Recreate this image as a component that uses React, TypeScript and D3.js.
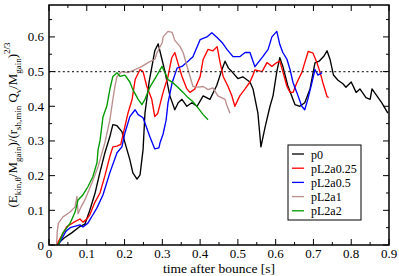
import * as d3 from 'd3';

const W = 399;
const H = 276;
const margin = { top: 5, right: 10, bottom: 31, left: 49 };

const xTicks = [0, 0.1, 0.2, 0.3, 0.4, 0.5, 0.6, 0.7, 0.8, 0.9];
const xTickLabels = ['0', '0.1', '0.2', '0.3', '0.4', '0.5', '0.6', '0.7', '0.8', '0.9'];
const yTicks = [0, 0.1, 0.2, 0.3, 0.4, 0.5, 0.6];
const yTickLabels = ['0', '0.1', '0.2', '0.3', '0.4', '0.5', '0.6'];

const seriesNames = ['p0', 'pL2a0.25', 'pL2a0.5', 'pL2a1', 'pL2a2'];
const seriesColors = ['#000000', '#ff0000', '#0000ff', '#bc8f8f', '#009a00'];

// [time after bounce, normalised ratio]
const p0: [number, number][] = [
  [0.02, 0], [0.03, 0.01], [0.04, 0.02], [0.06, 0.035], [0.08, 0.052], [0.095, 0.06],
  [0.108, 0.1], [0.122, 0.15], [0.135, 0.21], [0.148, 0.266], [0.161, 0.312], [0.169, 0.347],
  [0.18, 0.344], [0.193, 0.327], [0.201, 0.295], [0.214, 0.246], [0.222, 0.208], [0.233, 0.19],
  [0.241, 0.202], [0.249, 0.275], [0.254, 0.38], [0.265, 0.47], [0.28, 0.56], [0.289, 0.58],
  [0.298, 0.54], [0.307, 0.5], [0.32, 0.43], [0.333, 0.39], [0.342, 0.41], [0.352, 0.42],
  [0.365, 0.4], [0.378, 0.41], [0.392, 0.4], [0.408, 0.43], [0.426, 0.42], [0.444, 0.46],
  [0.456, 0.5], [0.466, 0.53], [0.475, 0.51], [0.484, 0.5], [0.5, 0.48], [0.513, 0.485],
  [0.532, 0.47], [0.54, 0.45], [0.553, 0.38], [0.561, 0.283], [0.572, 0.34], [0.585, 0.4],
  [0.593, 0.43], [0.603, 0.5], [0.611, 0.54], [0.619, 0.515], [0.632, 0.46], [0.651, 0.405],
  [0.664, 0.4], [0.677, 0.41], [0.691, 0.45], [0.704, 0.525], [0.715, 0.53], [0.728, 0.545],
  [0.736, 0.56], [0.744, 0.535], [0.753, 0.49], [0.765, 0.475], [0.778, 0.465], [0.786, 0.455],
  [0.8, 0.47], [0.813, 0.44], [0.823, 0.45], [0.839, 0.425], [0.85, 0.42], [0.855, 0.45],
  [0.868, 0.43], [0.881, 0.41], [0.897, 0.38],
];

const pL2a025: [number, number][] = [
  [0.02, 0], [0.03, 0.02], [0.047, 0.053], [0.065, 0.065], [0.082, 0.075], [0.09, 0.066],
  [0.1, 0.075], [0.108, 0.087], [0.12, 0.12], [0.135, 0.15], [0.148, 0.2], [0.161, 0.255],
  [0.169, 0.283], [0.18, 0.285], [0.19, 0.29], [0.196, 0.318], [0.209, 0.38], [0.22, 0.42],
  [0.228, 0.477], [0.241, 0.506], [0.249, 0.5], [0.259, 0.457], [0.272, 0.42], [0.28, 0.37],
  [0.288, 0.38], [0.302, 0.44], [0.315, 0.486], [0.325, 0.54], [0.333, 0.555], [0.341, 0.526],
  [0.352, 0.486], [0.365, 0.45], [0.373, 0.44], [0.386, 0.45], [0.4, 0.485], [0.408, 0.535],
  [0.421, 0.564], [0.434, 0.56], [0.445, 0.572], [0.453, 0.526], [0.461, 0.486], [0.474, 0.457],
  [0.484, 0.43], [0.492, 0.4], [0.505, 0.43], [0.519, 0.45], [0.532, 0.47], [0.54, 0.49],
  [0.545, 0.505], [0.564, 0.5], [0.577, 0.526], [0.59, 0.515], [0.603, 0.526], [0.611, 0.53],
  [0.619, 0.5], [0.63, 0.457], [0.638, 0.44], [0.646, 0.44], [0.656, 0.468], [0.669, 0.497],
  [0.677, 0.526], [0.686, 0.558], [0.699, 0.553], [0.709, 0.526], [0.717, 0.5], [0.725, 0.468],
  [0.736, 0.428], [0.74, 0.425],
];

const pL2a05: [number, number][] = [
  [0.025, 0], [0.03, 0.01], [0.045, 0.04], [0.056, 0.05], [0.082, 0.058], [0.09, 0.052],
  [0.103, 0.063], [0.115, 0.085], [0.127, 0.107], [0.143, 0.145], [0.161, 0.208], [0.18, 0.266],
  [0.193, 0.283], [0.201, 0.323], [0.214, 0.37], [0.228, 0.39], [0.236, 0.376], [0.249, 0.367],
  [0.267, 0.312], [0.28, 0.277], [0.291, 0.28], [0.294, 0.295], [0.302, 0.32], [0.31, 0.36],
  [0.315, 0.41], [0.326, 0.468], [0.339, 0.51], [0.352, 0.515], [0.368, 0.53], [0.381, 0.543],
  [0.4, 0.592], [0.418, 0.6], [0.431, 0.612], [0.445, 0.598], [0.458, 0.584], [0.471, 0.564],
  [0.487, 0.543], [0.505, 0.543], [0.519, 0.555], [0.532, 0.555], [0.545, 0.514], [0.553, 0.525],
  [0.566, 0.543], [0.58, 0.564], [0.59, 0.6], [0.603, 0.616], [0.611, 0.578], [0.619, 0.555],
  [0.63, 0.535], [0.638, 0.506], [0.646, 0.468], [0.656, 0.44], [0.669, 0.4], [0.677, 0.39],
  [0.685, 0.42], [0.696, 0.468], [0.704, 0.506], [0.712, 0.49], [0.723, 0.497],
];

const pL2a1: [number, number][] = [
  [0.02, 0], [0.022, 0.04], [0.025, 0.063], [0.037, 0.081], [0.056, 0.095], [0.069, 0.11],
  [0.074, 0.14], [0.077, 0.09], [0.085, 0.11], [0.095, 0.13], [0.114, 0.18], [0.13, 0.226],
  [0.148, 0.295], [0.161, 0.36], [0.169, 0.42], [0.175, 0.46], [0.18, 0.486], [0.193, 0.5],
  [0.209, 0.497], [0.228, 0.506], [0.246, 0.515], [0.262, 0.526], [0.28, 0.535], [0.286, 0.555],
  [0.3, 0.584], [0.302, 0.6], [0.315, 0.616], [0.326, 0.613], [0.333, 0.59], [0.347, 0.572],
  [0.355, 0.555], [0.368, 0.506], [0.381, 0.457], [0.394, 0.455], [0.408, 0.457], [0.421, 0.448],
  [0.434, 0.453], [0.447, 0.43], [0.466, 0.42], [0.47, 0.405], [0.479, 0.38],
];

const pL2a2: [number, number][] = [
  [0.025, 0], [0.03, 0.015], [0.037, 0.035], [0.056, 0.063], [0.069, 0.095], [0.077, 0.13],
  [0.09, 0.145], [0.103, 0.168], [0.116, 0.197], [0.127, 0.237], [0.13, 0.275], [0.135, 0.3],
  [0.143, 0.37], [0.153, 0.4], [0.161, 0.448], [0.169, 0.486], [0.18, 0.497], [0.188, 0.486],
  [0.201, 0.49], [0.214, 0.47], [0.222, 0.448], [0.236, 0.42], [0.246, 0.405], [0.254, 0.42],
  [0.267, 0.455], [0.286, 0.49], [0.299, 0.515], [0.307, 0.497], [0.315, 0.477], [0.328, 0.468],
  [0.341, 0.455], [0.355, 0.44], [0.368, 0.425], [0.381, 0.413], [0.394, 0.396], [0.408, 0.376],
  [0.421, 0.361],
];

const seriesData = [p0, pL2a025, pL2a05, pL2a1, pL2a2];

export default function App() {
  const x = d3.scaleLinear().domain([0, 0.9]).range([margin.left, W - margin.right]);
  const y = d3.scaleLinear().domain([0, 0.692]).range([H - margin.bottom, margin.top]);

  const line = d3.line<[number, number]>()
    .x(d => x(d[0]))
    .y(d => y(d[1]));

  const xMinor = d3.range(0.05, 0.9, 0.1);
  const yMinor = d3.range(0.05, 0.69, 0.1);
  const x0 = margin.left, x1 = W - margin.right;
  const y0 = H - margin.bottom, y1 = margin.top;
  const font = "'Liberation Serif', Tinos, 'Times New Roman', Times, 'Nimbus Roman', FreeSerif, 'DejaVu Serif', serif";

  return (
    <svg width={W} height={H}
      style={{ position: 'absolute', left: 0, top: 0, background: '#fff', fontFamily: font }}>
      {/* data lines */}
      <g fill="none" strokeWidth={1.35} strokeLinejoin="round">
        {seriesData.map((d, i) => (
          <path key={i} d={line(d) || ''} stroke={seriesColors[i]} />
        ))}
      </g>

      {/* reference line at 0.5 */}
      <line x1={x0} x2={x1} y1={y(0.5)} y2={y(0.5)} stroke="#333" strokeWidth={1.3}
        strokeDasharray="2,2.6" />

      {/* ticks on all four sides */}
      <g stroke="#000" strokeWidth={1}>
        {xTicks.map(t => (
          <g key={'xt' + t}>
            <line x1={x(t)} x2={x(t)} y1={y0} y2={y0 - 6} />
            <line x1={x(t)} x2={x(t)} y1={y1} y2={y1 + 6} />
          </g>
        ))}
        {xMinor.map(t => (
          <g key={'xm' + t}>
            <line x1={x(t)} x2={x(t)} y1={y0} y2={y0 - 3} />
            <line x1={x(t)} x2={x(t)} y1={y1} y2={y1 + 3} />
          </g>
        ))}
        {yTicks.map(t => (
          <g key={'yt' + t}>
            <line x1={x0} x2={x0 + 6} y1={y(t)} y2={y(t)} />
            <line x1={x1} x2={x1 - 6} y1={y(t)} y2={y(t)} />
          </g>
        ))}
        {yMinor.map(t => (
          <g key={'ym' + t}>
            <line x1={x0} x2={x0 + 3} y1={y(t)} y2={y(t)} />
            <line x1={x1} x2={x1 - 3} y1={y(t)} y2={y(t)} />
          </g>
        ))}
      </g>

      <rect x={x0} y={y1} width={x1 - x0} height={y0 - y1} fill="none" stroke="#000" strokeWidth={1.5} />

      {/* tick labels */}
      <g fontSize={13} fill="#000">
        {xTicks.map((t, i) => (
          <text key={'xl' + t} x={x(t)} y={y0 + 13} textAnchor="middle">{xTickLabels[i]}</text>
        ))}
        {yTicks.map((t, i) => (
          <text key={'yl' + t} x={x0 - 5} y={y(t) + 4.5} textAnchor="end">{yTickLabels[i]}</text>
        ))}
      </g>

      {/* axis titles */}
      <text x={(x0 + x1) / 2} y={272.5} fontSize={13.5} textAnchor="middle">time after bounce [s]</text>
      <text transform={`translate(17,${(y0 + y1) / 2}) rotate(-90)`} fontSize={13} textAnchor="middle">
        <tspan>(E</tspan>
        <tspan fontSize={9} dy={4}>kin,θ</tspan>
        <tspan dy={-4}>/M</tspan>
        <tspan fontSize={9} dy={4}>gain</tspan>
        <tspan dy={-4}>)/(r</tspan>
        <tspan fontSize={9} dy={4}>sh,min</tspan>
        <tspan dy={-4}> Q</tspan>
        <tspan fontSize={9} dy={4}>ν</tspan>
        <tspan dy={-4}>/M</tspan>
        <tspan fontSize={9} dy={4}>gain</tspan>
        <tspan dy={-4}>)</tspan>
        <tspan fontSize={9} dy={-7}>2/3</tspan>
      </text>

      {/* legend */}
      <g>
        <rect x={288} y={145} width={73} height={75} fill="#fff" stroke="#000" strokeWidth={1} />
        {seriesNames.map((name, i) => (
          <g key={name} transform={`translate(0,${154 + i * 14.2})`}>
            <line x1={292} x2={304} y1={0} y2={0} stroke={seriesColors[i]} strokeWidth={1.3} />
            <text x={311} y={4.5} fontSize={12}>{name}</text>
          </g>
        ))}
      </g>
    </svg>
  );
}
